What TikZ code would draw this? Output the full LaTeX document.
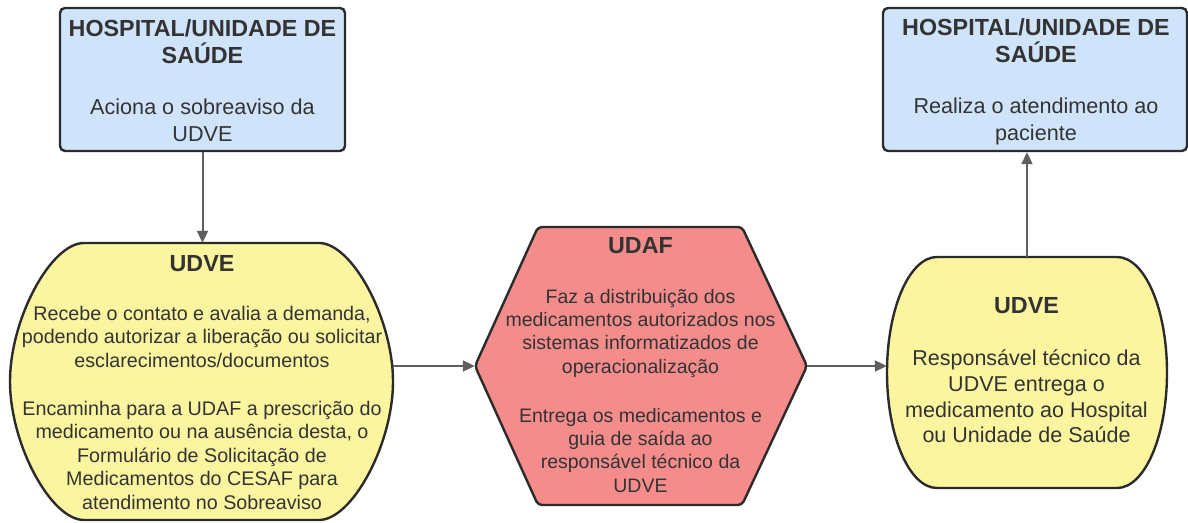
\documentclass[tikz,border=0pt]{standalone}
\usepackage{fontspec}
\setmainfont{Liberation Sans}
\usetikzlibrary{arrows.meta,calc}
\definecolor{bluefill}{HTML}{CFE4FA}
\definecolor{yellowfill}{HTML}{FCF5A0}
\definecolor{redfill}{HTML}{F48C8C}
\definecolor{edgecol}{HTML}{2B2B2B}
\definecolor{txtcol}{HTML}{333333}
\definecolor{arrowcol}{HTML}{5F5F5F}
\newcommand{\mytitle}[1]{{\bfseries\fontsize{23.3}{27}\selectfont #1}}
\tikzset{
  bluebox/.style={draw=edgecol, line width=2.4pt, fill=bluefill, rounded corners=5pt, inner sep=0pt},
  ghost/.style={inner sep=0pt, draw=none},
  yshape/.style={draw=edgecol, line width=2.4pt, fill=yellowfill},
  hshape/.style={draw=edgecol, line width=2.4pt, fill=redfill, rounded corners=4pt},
  conn/.style={draw=arrowcol, line width=2pt, -{Triangle[length=12pt,width=11pt]}},
  txt/.style={text=txtcol, align=center, inner sep=0pt, anchor=base}
}
\begin{document}
\begin{tikzpicture}[x=1pt,y=1pt]
\useasboundingbox (0,0) rectangle (1188,522);
% boxes
\node[bluebox, minimum width=285pt, minimum height=143pt] (h1) at (202.5,442.5) {};
\node[bluebox, minimum width=304pt, minimum height=143pt] (h2) at (1035,442.5) {};
\node[ghost, minimum width=383pt, minimum height=277pt] (udve1) at (201.5,140.5) {};
\node[ghost, minimum width=332pt, minimum height=278pt] (hex) at (641,156) {};
\node[ghost, minimum width=280pt, minimum height=231pt] (udve2) at (1027,149.5) {};
% left barrel
\path[yshape] (84,279) -- (319,279) .. controls (352.3,279) and (393,202.8) .. (393,140.5)
  .. controls (393,78.2) and (352.3,2) .. (319,2) -- (84,2)
  .. controls (50.7,2) and (10,78.2) .. (10,140.5)
  .. controls (10,202.8) and (50.7,279) .. cycle;
% right barrel
\path[yshape] (937,265) -- (1117,265) .. controls (1144.6,265) and (1167,213.3) .. (1167,149.5)
  .. controls (1167,85.7) and (1144.6,34) .. (1117,34) -- (937,34)
  .. controls (909.4,34) and (887,85.7) .. (887,149.5)
  .. controls (887,213.3) and (909.4,265) .. cycle;
% hexagon
\path[hshape] (475,156) -- (538,295) -- (742,295) -- (807,156) -- (742,17) -- (538,17) -- cycle;
% texts (anchor base = baseline of last line)
\node[txt, font=\fontsize{21.6}{27}\selectfont] (t1) at (202.5,380)
  {\mytitle{HOSPITAL/UNIDADE DE}\\\mytitle{SAÚDE}\\[24pt]Aciona o sobreaviso da\\UDVE};
\node[txt, font=\fontsize{21.6}{27}\selectfont] (t2) at (1036,381)
  {\mytitle{HOSPITAL/UNIDADE DE}\\\mytitle{SAÚDE}\\[24pt]Realiza o atendimento ao\\paciente};
\node[txt, font=\fontsize{19.7}{23.4}\selectfont] (t3) at (202,13)
  {\mytitle{UDVE}\\[25.6pt]Recebe o contato e avalia a demanda,\\podendo autorizar a liberação ou solicitar\\esclarecimentos/documentos\\[24.6pt]Encaminha para a UDAF a prescrição do\\medicamento ou na ausência desta, o\\Formulário de Solicitação de\\Medicamentos do CESAF para\\atendimento no Sobreaviso};
\node[txt, font=\fontsize{19.5}{23.3}\selectfont] (t4) at (640.5,30)
  {\mytitle{UDAF}\\[26.7pt]Faz a distribuição dos\\medicamentos autorizados nos\\sistemas informatizados de\\operacionalização\\[25.7pt]Entrega os medicamentos e\\guia de saída ao\\responsável técnico da\\UDVE};
\node[txt, font=\fontsize{21.5}{25.9}\selectfont] (t5) at (1026.5,79)
  {\mytitle{UDVE}\\[26pt]Responsável técnico da\\UDVE entrega o\\medicamento ao Hospital\\ou Unidade de Saúde};
% connectors
\draw[conn] (h1.south) -- (h1.south |- udve1.north);
\draw[conn] (udve1.east |- hex.west) -- (hex.west);
\draw[conn] (hex.east) -- (hex.east -| udve2.west);
\draw[conn] (udve2.north) -- (udve2.north |- h2.south);
\end{tikzpicture}
\end{document}
